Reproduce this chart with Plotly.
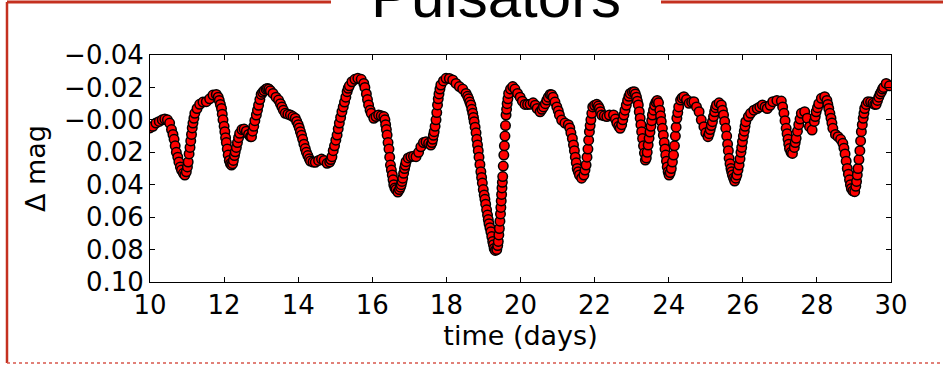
import plotly.graph_objects as go

# ---- data ----
time_days = [
    10.00, 10.08, 10.16, 10.25, 10.33, 10.40, 10.47, 10.53, 10.58, 10.62,
    10.65, 10.68, 10.71, 10.75, 10.78, 10.82, 10.85, 10.90, 10.94, 10.98,
    11.01, 11.03, 11.055, 11.08, 11.10, 11.12, 11.14, 11.16, 11.185, 11.21,
    11.27, 11.34, 11.43, 11.52, 11.61, 11.70, 11.79, 11.84, 11.87, 11.90,
    11.93, 11.95, 11.97, 12.00, 12.02, 12.04, 12.06, 12.085, 12.11, 12.14,
    12.17, 12.20, 12.23, 12.25, 12.28, 12.30, 12.33, 12.36, 12.39, 12.42,
    12.48, 12.54, 12.60, 12.66, 12.71, 12.74, 12.77, 12.80, 12.83, 12.87,
    12.90, 12.93, 12.965, 13.00, 13.04, 13.08, 13.13, 13.17, 13.21, 13.25,
    13.32, 13.40, 13.47, 13.52, 13.56, 13.60, 13.65, 13.72, 13.79, 13.86,
    13.92, 13.96, 14.00, 14.03, 14.06, 14.09, 14.12, 14.155, 14.19, 14.22,
    14.26, 14.30, 14.33, 14.40, 14.46, 14.55, 14.63, 14.70, 14.78, 14.85,
    14.88, 14.91, 14.945, 14.98, 15.015, 15.05, 15.08, 15.11, 15.145, 15.18,
    15.215, 15.25, 15.285, 15.32, 15.35, 15.38, 15.45, 15.53, 15.61, 15.70,
    15.77, 15.80, 15.84, 15.87, 15.90, 15.94, 15.97, 16.04, 16.10, 16.17,
    16.24, 16.31, 16.34, 16.36, 16.38, 16.40, 16.425, 16.45, 16.47, 16.49,
    16.515, 16.54, 16.56, 16.58, 16.61, 16.64, 16.69, 16.73, 16.76, 16.78,
    16.80, 16.82, 16.845, 16.87, 16.89, 16.91, 16.97, 17.04, 17.11, 17.18,
    17.25, 17.31, 17.38, 17.45, 17.52, 17.58, 17.61, 17.63, 17.65, 17.67,
    17.695, 17.72, 17.74, 17.76, 17.78, 17.80, 17.825, 17.85, 17.92, 17.99,
    18.08, 18.17, 18.26, 18.35, 18.44, 18.53, 18.57, 18.60, 18.63, 18.66,
    18.685, 18.71, 18.73, 18.75, 18.775, 18.80, 18.82, 18.84, 18.86, 18.88,
    18.905, 18.93, 18.95, 18.97, 18.995, 19.02, 19.04, 19.06, 19.085, 19.11,
    19.13, 19.15, 19.175, 19.20, 19.225, 19.25, 19.27, 19.29, 19.32, 19.36,
    19.385, 19.40, 19.415, 19.43, 19.445, 19.46, 19.47, 19.48, 19.49, 19.50,
    19.51, 19.52, 19.535, 19.55, 19.565, 19.58, 19.595, 19.61, 19.625, 19.64,
    19.66, 19.68, 19.73, 19.79, 19.85, 19.92, 19.99, 20.05, 20.12, 20.19,
    20.26, 20.34, 20.40, 20.45, 20.53, 20.58, 20.62, 20.67, 20.71, 20.75,
    20.80, 20.84, 20.88, 20.93, 20.98, 21.02, 21.05, 21.11, 21.20, 21.29,
    21.33, 21.36, 21.40, 21.43, 21.455, 21.48, 21.505, 21.53, 21.56, 21.59,
    21.65, 21.71, 21.74, 21.77, 21.795, 21.82, 21.84, 21.86, 21.88, 21.90,
    21.925, 21.95, 22.00, 22.06, 22.10, 22.13, 22.16, 22.19, 22.26, 22.33,
    22.40, 22.51, 22.56, 22.60, 22.65, 22.69, 22.73, 22.76, 22.79, 22.82,
    22.855, 22.89, 22.925, 22.96, 23.02, 23.07, 23.10, 23.13, 23.155, 23.18,
    23.205, 23.23, 23.25, 23.27, 23.295, 23.32, 23.345, 23.37, 23.395, 23.42,
    23.445, 23.47, 23.495, 23.52, 23.54, 23.56, 23.59, 23.62, 23.655, 23.69,
    23.725, 23.76, 23.78, 23.80, 23.83, 23.855, 23.88, 23.90, 23.92, 23.94,
    23.96, 23.985, 24.01, 24.04, 24.07, 24.10, 24.13, 24.155, 24.18, 24.20,
    24.22, 24.245, 24.27, 24.32, 24.36, 24.41, 24.48, 24.55, 24.62, 24.68,
    24.75, 24.82, 24.88, 24.95, 25.00, 25.06, 25.09, 25.12, 25.15, 25.18,
    25.21, 25.24, 25.265, 25.29, 25.36, 25.42, 25.45, 25.48, 25.51, 25.54,
    25.565, 25.59, 25.61, 25.63, 25.655, 25.68, 25.70, 25.72, 25.75, 25.78,
    25.81, 25.84, 25.87, 25.90, 25.925, 25.95, 25.97, 25.99, 26.015, 26.04,
    26.06, 26.08, 26.15, 26.21, 26.30, 26.39, 26.46, 26.53, 26.60, 26.66,
    26.74, 26.81, 26.92, 27.04, 27.075, 27.11, 27.14, 27.17, 27.195, 27.22,
    27.24, 27.26, 27.30, 27.34, 27.39, 27.415, 27.44, 27.475, 27.51, 27.545,
    27.58, 27.67, 27.74, 27.80, 27.87, 27.93, 27.955, 27.98, 28.015, 28.05,
    28.12, 28.21, 28.27, 28.295, 28.32, 28.35, 28.38, 28.405, 28.43, 28.50,
    28.57, 28.64, 28.70, 28.73, 28.76, 28.79, 28.82, 28.85, 28.88, 28.905,
    28.93, 28.97, 29.02, 29.05, 29.07, 29.09, 29.11, 29.135, 29.16, 29.18,
    29.20, 29.225, 29.25, 29.27, 29.29, 29.33, 29.38, 29.45, 29.51, 29.56,
    29.60, 29.635, 29.67, 29.705, 29.74, 29.77, 29.80, 29.87, 29.96,
]

delta_mag = [
    0.005, 0.004, 0.002, 0.001, 0.000, -0.0005, 0.000, 0.002, 0.006, 0.009,
    0.012, 0.016, 0.020, 0.023, 0.026, 0.029, 0.031, 0.033, 0.034, 0.032,
    0.029, 0.026, 0.021, 0.017, 0.013, 0.009, 0.005, 0.002, -0.001, -0.004,
    -0.007, -0.0096, -0.011, -0.0112, -0.013, -0.0153, -0.0157, -0.014, -0.012, -0.0095,
    -0.007, -0.0035, 0.000, 0.004, 0.0073, 0.011, 0.014, 0.018, 0.0217, 0.025,
    0.027, 0.0279, 0.027, 0.025, 0.022, 0.0197, 0.017, 0.014, 0.011, 0.0083,
    0.006, 0.0057, 0.007, 0.009, 0.0104, 0.0104, 0.007, 0.004, 0.0005, -0.003,
    -0.006, -0.009, -0.0125, -0.0157, -0.017, -0.018, -0.019, -0.0194, -0.019, -0.018,
    -0.0163, -0.014, -0.0122, -0.010, -0.008, -0.006, -0.004, -0.0035, -0.003, -0.002,
    -0.001, 0.001, 0.003, 0.005, 0.0073, 0.0095, 0.012, 0.015, 0.0177, 0.020,
    0.022, 0.024, 0.0254, 0.026, 0.0262, 0.025, 0.0242, 0.025, 0.0268, 0.026,
    0.0245, 0.0227, 0.019, 0.016, 0.0125, 0.0094, 0.0055, 0.002, -0.0015, -0.005,
    -0.008, -0.011, -0.014, -0.0174, -0.0195, -0.021, -0.0235, -0.025, -0.0256, -0.025,
    -0.0225, -0.020, -0.016, -0.0125, -0.0092, -0.006, -0.004, -0.001, -0.002, -0.003,
    -0.0025, -0.002, 0.000, 0.003, 0.006, 0.0094, 0.014, 0.018, 0.023, 0.0279,
    0.031, 0.034, 0.037, 0.040, 0.042, 0.043, 0.0445, 0.043, 0.0415, 0.040,
    0.038, 0.036, 0.033, 0.030, 0.028, 0.0258, 0.0235, 0.0227, 0.0225, 0.0227,
    0.020, 0.0166, 0.014, 0.0135, 0.0145, 0.0155, 0.014, 0.012, 0.0095, 0.0073,
    0.004, 0.000, -0.0045, -0.0092, -0.013, -0.016, -0.019, -0.0215, -0.024, -0.0256,
    -0.0255, -0.0246, -0.0225, -0.0205, -0.019, -0.0163, -0.0145, -0.013, -0.011, -0.0092,
    -0.0065, -0.004, -0.0015, 0.0011, 0.0045, 0.008, 0.012, 0.0155, 0.019, 0.023,
    0.0275, 0.032, 0.0355, 0.039, 0.043, 0.0464, 0.049, 0.052, 0.0555, 0.0587,
    0.0615, 0.064, 0.0665, 0.069, 0.072, 0.075, 0.077, 0.0793, 0.0805, 0.080,
    0.0775, 0.075, 0.071, 0.067, 0.0625, 0.058, 0.054, 0.050, 0.046, 0.042,
    0.0385, 0.035, 0.0285, 0.0217, 0.016, 0.010, 0.0035, -0.003, -0.0065, -0.010,
    -0.013, -0.0163, -0.019, -0.0205, -0.019, -0.0163, -0.014, -0.0115, -0.0095, -0.0095,
    -0.0096, -0.0105, -0.009, -0.007, -0.005, -0.0065, -0.008, -0.010, -0.0122, -0.014,
    -0.0157, -0.0155, -0.014, -0.011, -0.008, -0.0055, -0.003, 0.0001, 0.002, 0.003,
    0.005, 0.008, 0.0115, 0.0155, 0.019, 0.023, 0.0265, 0.030, 0.032, 0.034,
    0.036, 0.034, 0.031, 0.0279, 0.023, 0.018, 0.0125, 0.0073, 0.0035, 0.000,
    -0.004, -0.008, -0.009, -0.0096, -0.0085, -0.007, -0.005, -0.003, -0.0025, -0.002,
    -0.003, -0.003, -0.0005, 0.002, 0.004, 0.0052, 0.003, 0.000, -0.003, -0.006,
    -0.009, -0.012, -0.0145, -0.0163, -0.0172, -0.0174, -0.016, -0.014, -0.0115, -0.0092,
    -0.005, -0.001, 0.003, 0.0073, 0.0115, 0.016, 0.0205, 0.0248, 0.0235, 0.020,
    0.0155, 0.0114, 0.0075, 0.004, 0.0005, -0.003, -0.006, -0.009, -0.011, -0.012,
    -0.0105, -0.006, -0.0025, 0.001, 0.0052, 0.0095, 0.014, 0.018, 0.0217, 0.0255,
    0.029, 0.032, 0.034, 0.0325, 0.030, 0.026, 0.0217, 0.016, 0.010, 0.0045,
    -0.001, -0.0045, -0.008, -0.0122, -0.0135, -0.0143, -0.0125, -0.0102, -0.011, -0.0112,
    -0.008, -0.005, 0.000, 0.0042, 0.008, 0.0104, 0.0085, 0.006, 0.0035, 0.0011,
    -0.002, -0.005, -0.0075, -0.0092, -0.0105, -0.0092, -0.006, -0.003, 0.001, 0.0052,
    0.010, 0.015, 0.019, 0.0237, 0.027, 0.030, 0.032, 0.034, 0.036, 0.0377,
    0.036, 0.034, 0.031, 0.0279, 0.024, 0.020, 0.017, 0.0135, 0.010, 0.007,
    0.004, 0.0011, -0.002, -0.004, -0.006, -0.007, -0.008, -0.0092, -0.008, -0.007,
    -0.009, -0.0112, -0.012, -0.0116, -0.008, -0.004, 0.0005, 0.0052, 0.0085, 0.012,
    0.015, 0.0177, 0.020, 0.0207, 0.017, 0.014, 0.0114, 0.007, 0.003, -0.0005,
    -0.004, -0.005, -0.001, 0.0042, 0.0063, 0.001, -0.002, -0.005, -0.0075, -0.010,
    -0.0133, -0.0143, -0.012, -0.0095, -0.007, -0.004, -0.001, 0.002, 0.0052, 0.009,
    0.0104, 0.012, 0.0145, 0.0175, 0.021, 0.0255, 0.030, 0.0335, 0.037, 0.040,
    0.0423, 0.0438, 0.0443, 0.041, 0.038, 0.034, 0.030, 0.0245, 0.019, 0.013,
    0.0073, 0.003, -0.001, -0.004, -0.007, -0.0095, -0.0112, -0.011, -0.0102, -0.0095,
    -0.0096, -0.012, -0.014, -0.016, -0.0174, -0.019, -0.020, -0.0225, -0.021,
]

assert len(time_days) == len(delta_mag)

x_ticks = [10, 12, 14, 16, 18, 20, 22, 24, 26, 28, 30]
y_ticks = [-0.04, -0.02, 0.0, 0.02, 0.04, 0.06, 0.08, 0.10]
y_tick_text = ["\u22120.04", "\u22120.02", "\u22120.00", "0.02", "0.04", "0.06", "0.08", "0.10"]

title_text = "Pulsators"
x_label = "time (days)"
y_label = "\u0394 mag"

W, H = 943, 367
L, R, T, B = 150, 52, 55, 85
pw, ph = W - L - R, H - T - B


def px(xp):
    return (xp - L) / pw


def py(yp):
    return (H - B - yp) / ph


fig = go.Figure()
fig.add_trace(go.Scatter(
    x=time_days, y=delta_mag, mode="markers",
    marker=dict(size=9.5, color="#ff0000", line=dict(color="#000000", width=1.5)),
    showlegend=False, hoverinfo="skip",
))

tick_font = dict(family="DejaVu Sans", size=26, color="black")
label_font = dict(family="DejaVu Sans", size=27, color="black")

fig.update_xaxes(
    range=[10, 30], tickvals=x_ticks, ticktext=[str(v) for v in x_ticks],
    showline=True, linecolor="black", linewidth=1, mirror="allticks",
    ticks="inside", ticklen=5, tickcolor="black", tickwidth=1,
    showgrid=False, zeroline=False, tickfont=tick_font,
    title=dict(text=x_label, font=label_font, standoff=4),
)
fig.update_yaxes(
    range=[0.10, -0.04], tickvals=y_ticks, ticktext=y_tick_text,
    showline=True, linecolor="black", linewidth=1, mirror="allticks",
    ticks="inside", ticklen=5, tickcolor="black", tickwidth=1,
    showgrid=False, zeroline=False, tickfont=tick_font,
    title=dict(text=y_label, font=label_font, standoff=10),
)

frame_red = "#c4301f"
shapes = [
    dict(type="line", xref="paper", yref="paper", x0=px(7), x1=px(331), y0=py(2), y1=py(2),
         line=dict(color=frame_red, width=3)),
    dict(type="line", xref="paper", yref="paper", x0=px(661), x1=px(945), y0=py(2), y1=py(2),
         line=dict(color=frame_red, width=3)),
    dict(type="line", xref="paper", yref="paper", x0=px(7), x1=px(7), y0=py(2), y1=py(363),
         line=dict(color=frame_red, width=2.5)),
    dict(type="line", xref="paper", yref="paper", x0=px(7), x1=px(945), y0=py(363), y1=py(363),
         line=dict(color="#d8574c", width=1.5, dash="dot")),
]

fig.update_layout(
    width=W, height=H,
    margin=dict(l=L, r=R, t=T, b=B, pad=0),
    plot_bgcolor="white", paper_bgcolor="white",
    shapes=shapes,
    annotations=[dict(
        text=title_text, xref="paper", yref="paper", x=px(496), y=py(32),
        xanchor="center", yanchor="bottom", showarrow=False,
        font=dict(family="Liberation Sans", size=60, color="black"),
    )],
)

fig.write_html("out.html")
